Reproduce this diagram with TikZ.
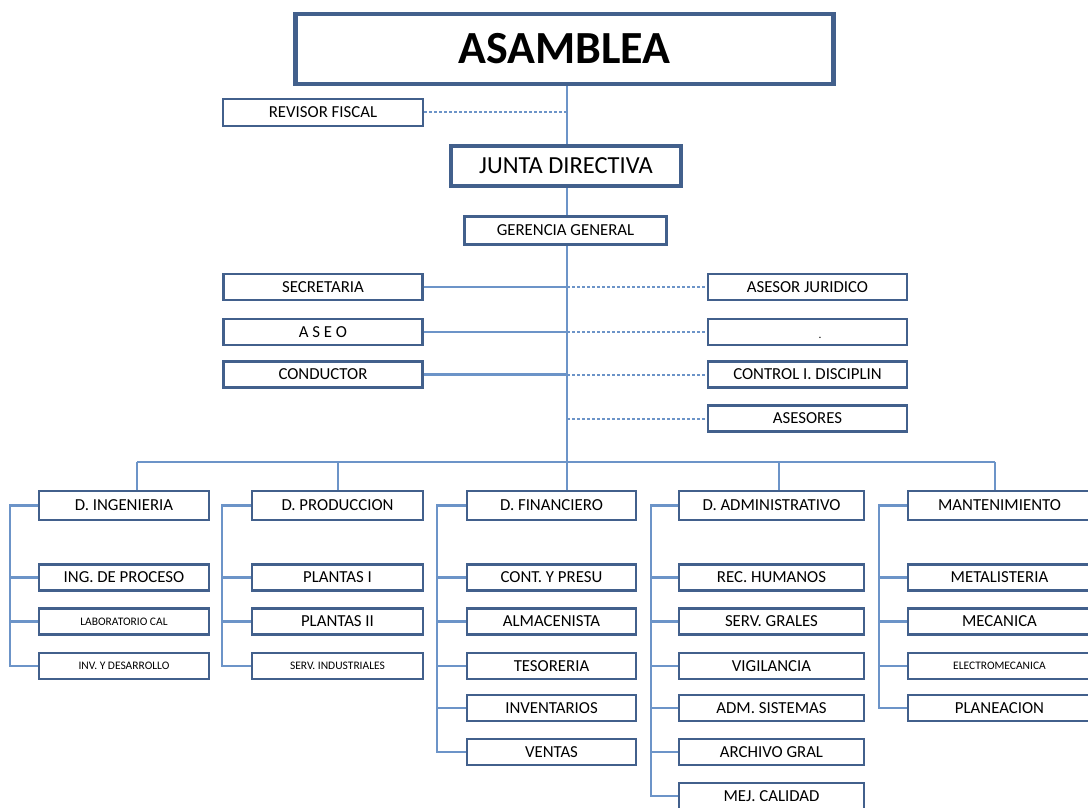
\documentclass[tikz,border=0pt]{standalone}
\usepackage{fontspec}
\setmainfont{Carlito}
\definecolor{boxc}{RGB}{66,96,140}
\definecolor{linec}{RGB}{108,148,200}
\newcommand\fsn{\fontsize{16.8}{19}\selectfont}
\newcommand\fss{\fontsize{11.5}{13}\selectfont}
\tikzset{
  bx/.style={draw=boxc, line width=2.4pt, fill=white, inner sep=0pt, font=\fsn},
  big/.style={bx, line width=4.5pt},
  mid/.style={bx, line width=3.5pt},
  side/.style={bx, minimum width=199, minimum height=26},
  dept/.style={bx, line width=2.8pt, minimum height=29},
  sub/.style={bx, minimum height=26},
  ln/.style={draw=linec, line width=2.6pt},
  trunkln/.style={draw=linec, line width=2.2pt},
  dln/.style={draw=linec, line width=2pt, dash pattern=on 3pt off 2pt},
  smalltxt/.style={font=\fss}
}
\begin{document}
\begin{tikzpicture}[x=1pt,y=-1pt]
\useasboundingbox (0,0) rectangle (1088,808);
% top chain
\node[big, minimum width=538, minimum height=70, font=\fontsize{46}{50}\selectfont\bfseries] (asam) at (564.5,49) {ASAMBLEA};
\node[bx, line width=2.2pt, minimum width=200, minimum height=27] (rev) at (323,112.5) {REVISOR FISCAL};
\node[big, line width=4pt, minimum width=230, minimum height=40, font=\fontsize{24.5}{27}\selectfont] (junta) at (566,166) {JUNTA DIRECTIVA};
\node[mid, minimum width=202, minimum height=28] (ger) at (565.5,230.5) {GERENCIA GENERAL};
% staff
\node[side] (secr) at (323,287) {SECRETARIA};
\node[side] (aseo) at (323,332) {A S E O};
\node[side] (cond) at (323,374.5) {CONDUCTOR};
\node[side] (jur) at (807.5,287) {ASESOR JURIDICO};
\node[side] (blank) at (807.5,332) {};
\node[font=\fss] (dot) at (820,338) {.};
\node[side] (ctrl) at (807.5,374.5) {CONTROL I. DISCIPLIN};
\node[side] (ases) at (807.5,418.5) {ASESORES};
% trunk coordinates
\coordinate (tRev) at (567,112.5);
\coordinate (tSec) at (567,287);
\coordinate (tAseo) at (567,332);
\coordinate (tCond) at (567,374.5);
\coordinate (tAses) at (567,418.5);
\coordinate (bus) at (567,462);
\coordinate (b1) at (137,462);
\coordinate (b2) at (338,462);
\coordinate (b4) at (779,462);
\coordinate (b5) at (995,462);
% departments
\node[dept, minimum width=170] (ing) at (124,505.5) {D. INGENIERIA};
\node[dept, minimum width=171] (prod) at (337.5,505.5) {D. PRODUCCION};
\node[dept, minimum width=169] (fin) at (551.5,505.5) {D. FINANCIERO};
\node[dept, minimum width=185] (adm) at (771.5,505.5) {D. ADMINISTRATIVO};
\node[dept, minimum width=183] (mant) at (999.5,505.5) {MANTENIMIENTO};
% sub boxes
\node[sub, minimum width=170] (ing1) at (124,577.5) {ING. DE PROCESO};
\node[sub, minimum width=170, smalltxt] (ing2) at (124,621.5) {LABORATORIO CAL};
\node[sub, minimum width=170, smalltxt] (ing3) at (124,666) {INV. Y DESARROLLO};
\node[sub, minimum width=171] (prod1) at (337.5,577.5) {PLANTAS I};
\node[sub, minimum width=171] (prod2) at (337.5,621.5) {PLANTAS II};
\node[sub, minimum width=171, smalltxt] (prod3) at (337.5,666) {SERV. INDUSTRIALES};
\node[sub, minimum width=169] (fin1) at (551.5,577.5) {CONT. Y PRESU};
\node[sub, minimum width=169] (fin2) at (551.5,621.5) {ALMACENISTA};
\node[sub, minimum width=169] (fin3) at (551.5,666) {TESORERIA};
\node[sub, minimum width=169] (fin4) at (551.5,708) {INVENTARIOS};
\node[sub, minimum width=169] (fin5) at (551.5,752) {VENTAS};
\node[sub, minimum width=185] (adm1) at (771.5,577.5) {REC. HUMANOS};
\node[sub, minimum width=185] (adm2) at (771.5,621.5) {SERV. GRALES};
\node[sub, minimum width=185] (adm3) at (771.5,666) {VIGILANCIA};
\node[sub, minimum width=185] (adm4) at (771.5,708) {ADM. SISTEMAS};
\node[sub, minimum width=185] (adm5) at (771.5,752) {ARCHIVO GRAL};
\node[sub, minimum width=185] (adm6) at (771.5,796) {MEJ. CALIDAD};
\node[sub, minimum width=183] (mant1) at (999.5,577.5) {METALISTERIA};
\node[sub, minimum width=183] (mant2) at (999.5,621.5) {MECANICA};
\node[sub, minimum width=183, smalltxt] (mant3) at (999.5,666) {ELECTROMECANICA};
\node[sub, minimum width=183] (mant4) at (999.5,708) {PLANEACION};
% bracket x positions
\coordinate (xi) at (10,0);
\coordinate (xp) at (222,0);
\coordinate (xf) at (437,0);
\coordinate (xa) at (651,0);
\coordinate (xm) at (879,0);
% connectors
\draw[trunkln] (asam.south -| bus) -- (junta.north -| bus);
\draw[trunkln] (junta.south -| bus) -- (ger.north -| bus);
\draw[trunkln] (ger.south -| bus) -- (bus);
\draw[dln] (rev.east) -- (tRev);
\draw[ln] (secr.east) -- (tSec);
\draw[ln] (aseo.east) -- (tAseo);
\draw[ln] (cond.east) -- (tCond);
\draw[dln] (tSec) -- (jur.west);
\draw[dln] (tAseo) -- (blank.west);
\draw[dln] (tCond) -- (ctrl.west);
\draw[dln] (tAses) -- (ases.west);
\draw[trunkln] (b1) -- (b5);
\draw[trunkln] (b1) -- (ing.north -| b1);
\draw[trunkln] (b2) -- (prod.north -| b2);
\draw[trunkln] (bus) -- (fin.north -| bus);
\draw[trunkln] (b4) -- (adm.north -| b4);
\draw[trunkln] (b5) -- (mant.north -| b5);
% brackets
\draw[ln] (ing.west) -- (ing.west -| xi) -- (ing3.west -| xi) -- (ing3.west);
\draw[ln] (ing1.west -| xi) -- (ing1.west);
\draw[ln] (ing2.west -| xi) -- (ing2.west);
\draw[ln] (prod.west) -- (prod.west -| xp) -- (prod3.west -| xp) -- (prod3.west);
\draw[ln] (prod1.west -| xp) -- (prod1.west);
\draw[ln] (prod2.west -| xp) -- (prod2.west);
\draw[ln] (fin.west) -- (fin.west -| xf) -- (fin5.west -| xf) -- (fin5.west);
\draw[ln] (fin1.west -| xf) -- (fin1.west);
\draw[ln] (fin2.west -| xf) -- (fin2.west);
\draw[ln] (fin3.west -| xf) -- (fin3.west);
\draw[ln] (fin4.west -| xf) -- (fin4.west);
\draw[ln] (adm.west) -- (adm.west -| xa) -- (adm6.west -| xa) -- (adm6.west);
\draw[ln] (adm1.west -| xa) -- (adm1.west);
\draw[ln] (adm2.west -| xa) -- (adm2.west);
\draw[ln] (adm3.west -| xa) -- (adm3.west);
\draw[ln] (adm4.west -| xa) -- (adm4.west);
\draw[ln] (adm5.west -| xa) -- (adm5.west);
\draw[ln] (mant.west) -- (mant.west -| xm) -- (mant4.west -| xm) -- (mant4.west);
\draw[ln] (mant1.west -| xm) -- (mant1.west);
\draw[ln] (mant2.west -| xm) -- (mant2.west);
\draw[ln] (mant3.west -| xm) -- (mant3.west);
\end{tikzpicture}
\end{document}
